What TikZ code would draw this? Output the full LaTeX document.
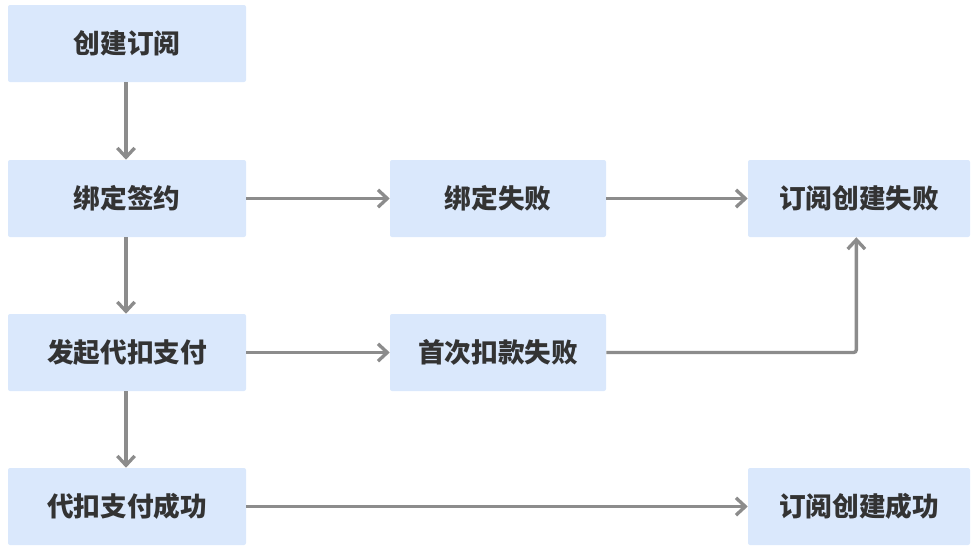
\documentclass[tikz,border=0pt]{standalone}
\usepackage{fontspec}
\setmainfont{Noto Sans CJK SC}
\usetikzlibrary{arrows.meta}
\definecolor{boxfill}{HTML}{DAE8FC}
\definecolor{txt}{HTML}{333333}
\definecolor{arr}{HTML}{8C8C8C}
\tikzset{
  box/.style={fill=boxfill, rounded corners=1.5pt, minimum height=57.75pt, inner sep=0pt, text=txt, font=\fontsize{20}{23}\selectfont\bfseries},
  w1/.style={minimum width=178.5pt},
  w2/.style={minimum width=162pt},
  w3/.style={minimum width=166.5pt},
  conn/.style={draw=arr, line width=2.5pt, -{Straight Barb[length=7pt,width=13pt,line width=2.5pt]}}
}
\begin{document}
\begin{tikzpicture}[x=0.75pt,y=-0.75pt]
\useasboundingbox (0,0) rectangle (977,550);
\node[box,w1] (a) at (127,43.5) {创建订阅};
\node[box,w1] (b) at (127,198.5) {绑定签约};
\node[box,w1] (c) at (127,352.5) {发起代扣支付};
\node[box,w1] (d) at (127,506.5) {代扣支付成功};
\node[box,w2] (e) at (498,198.5) {绑定失败};
\node[box,w2] (f) at (498,352.5) {首次扣款失败};
\node[box,w3] (g) at (859,198.5) {订阅创建失败};
\node[box,w3] (h) at (859,506.5) {订阅创建成功};
\draw[conn] (a.south) ++(-1,0) coordinate (a1) -- (a1 |- b.north);
\draw[conn] (b.south) ++(-1,0) coordinate (b1) -- (b1 |- c.north);
\draw[conn] (c.south) ++(-1,0) coordinate (c1) -- (c1 |- d.north);
\draw[conn] (b.east) -- (e.west);
\draw[conn] (e.east) -- (g.west);
\draw[conn] (c.east) -- (f.west);
\draw[conn] (d.east) -- (h.west);
\draw[conn, rounded corners=2pt] (f.east) -| ([xshift=-2pt]g.south);
\end{tikzpicture}
\end{document}
